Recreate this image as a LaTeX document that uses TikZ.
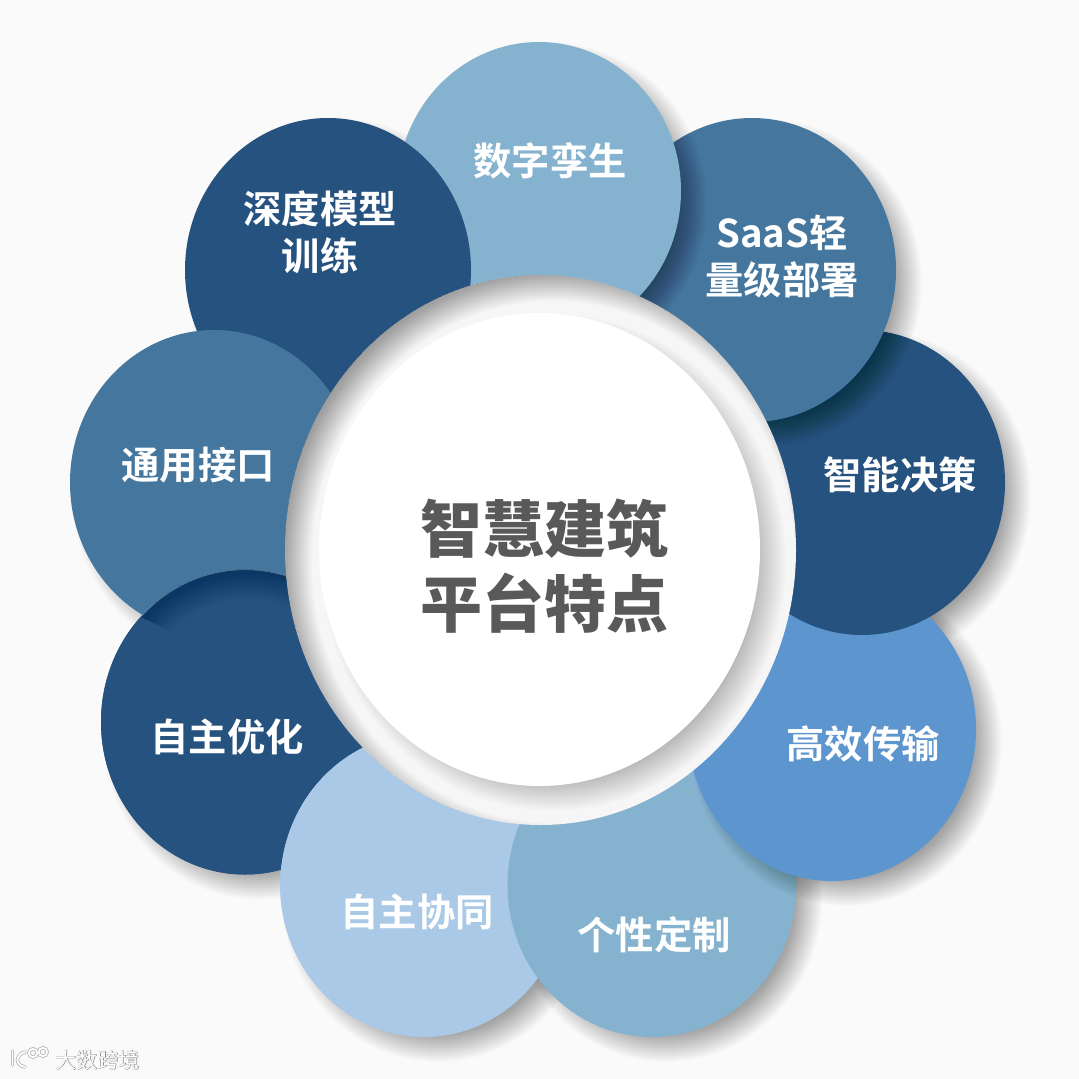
\documentclass[tikz,border=0pt]{standalone}
\usepackage{fontspec}
\setmainfont{Noto Sans CJK SC}[BoldFont={* Bold}]
\newfontfamily\cjkblack{Noto Sans CJK SC Black}
\newfontfamily\cjkreg{Noto Sans CJK SC}
\newfontfamily\cjkglow[FakeBold=3]{Noto Sans CJK SC}
\definecolor{bgc}{HTML}{FAFAFA}
\definecolor{ringc}{HTML}{F6F6F6}
\definecolor{pa}{HTML}{85B3CF}
\definecolor{pb}{HTML}{44769E}
\definecolor{pc}{HTML}{26527F}
\definecolor{pd}{HTML}{5D95CF}
\definecolor{pe}{HTML}{A9C9E7}
\definecolor{titlec}{HTML}{595959}
\tikzset{
  lbl/.style={text=white,align=center,font=\bfseries\fontsize{38.3}{47}\selectfont,inner sep=0pt},
  title/.style={text=titlec,align=center,font=\cjkblack\fontsize{62}{75}\selectfont,inner sep=0pt},
  wmtext/.style={inner sep=0pt,font=\cjkreg\fontsize{21}{21}\selectfont},
  wmglow/.style={inner sep=0pt,font=\cjkglow\fontsize{21}{21}\selectfont}
}
\newcommand{\shop}{0.011}
% soft shadow: stacked translucent ellipses
\newcommand{\softshadow}[4]{% cx cy rx ry
  \foreach \d in {12,11,...,-20}{
    \fill[black,opacity=\shop] ({#1+14},{#2+13}) ellipse [x radius={#3+\d*1pt},y radius={#4+\d*1pt}];
  }
}
\newcommand{\pbody}[5]{\fill[#5] (#1,#2) ellipse [x radius=#3pt,y radius=#4pt];}
\newcommand{\pshadow}[4]{\softshadow{#1}{#2}{#3pt}{#4pt}}
\newcommand{\petal}[5]{\pshadow{#1}{#2}{#3}{#4}\pbody{#1}{#2}{#3}{#4}{#5}}
\begin{document}
\begin{tikzpicture}[x=1pt,y=-1pt]
\useasboundingbox (0,0) rectangle (1079,1079);
\fill[bgc] (0,0) rectangle (1079,1079);
% petals, bottom to top
\petal{245}{722}{144}{152.5}{pc}
\pshadow{652}{885}{144.5}{152}
\petal{424}{885}{144}{152}{pe}
\pbody{652}{885}{144.5}{152}{pa}
\pshadow{862}{482.5}{143}{152.5}
\petal{832}{729}{144}{152}{pd}
\pbody{862}{482.5}{143}{152.5}{pc}
\petal{752}{270}{144}{152}{pb}
\pshadow{214}{482.5}{144}{152.5}
\pshadow{328}{270}{143}{152}
\petal{539}{191}{142}{149}{pa}
\pbody{328}{270}{143}{152}{pc}
\pbody{214}{482.5}{144}{152.5}{pb}
% closes the cycle: the lowest petal lies over the last one
\begin{scope}[even odd rule]
  \clip (0,0) rectangle (1079,1079) (424,885) ellipse [x radius=144pt,y radius=152pt];
  \fill[pc] (245,722) ellipse [x radius=144pt,y radius=152.5pt];
  \begin{scope}
    \clip (245,722) ellipse [x radius=144pt,y radius=152.5pt];
    \clip (214,482.5) ellipse [x radius=146pt,y radius=154.5pt];
    \foreach \d in {0,1,...,26}{
      \fill[black,opacity=0.008] (0,0) rectangle (1079,1079) (249,726) ellipse [x radius={144pt-\d*1pt},y radius={152.5pt-\d*1pt}];
    }
    \draw[white,opacity=0.4,line width=0.5pt] (245,722) ellipse [x radius=143.8pt,y radius=152.3pt];
  \end{scope}
\end{scope}
% ring hole
\begin{scope}
  \clip (540.5,550) ellipse [x radius=255.5pt,y radius=275pt];
  \fill[ringc] (0,0) rectangle (1079,1079);
  \begin{scope}[even odd rule]
    \foreach \d in {-14,-13,...,18}{
      \fill[black,opacity=0.012] (0,0) rectangle (1079,1079) (553.5,562) ellipse [x radius={255.5pt+\d*1pt},y radius={275pt+\d*1pt}];
    }
  \end{scope}
  \renewcommand{\shop}{0.008}
  \softshadow{539.5}{549.5}{220.5pt}{236.5pt}
\end{scope}
\fill[white] (539.5,549.5) ellipse [x radius=220.5pt,y radius=236.5pt];
% labels
\node[lbl] (n1) at (550,161) {数字孪生};
\node[lbl] (n2) at (782,256) {SaaS轻\\量级部署};
\node[lbl] (n3) at (900,475) {智能决策};
\node[lbl] (n4) at (863,744) {高效传输};
\node[lbl] (n5) at (654,935) {个性定制};
\node[lbl] (n6) at (417,912) {自主协同};
\node[lbl] (n7) at (227,737) {自主优化};
\node[lbl] (n8) at (198,465) {通用接口};
\node[lbl] (n9) at (320,232) {深度模型\\训练};
\node[title] (center) at (544,566) {智慧建筑\\平台特点};
% watermark
\node[wmglow,text=black,opacity=0.3] (wmg) at (97.5,1060) {大数跨境};
\node[wmtext,text=white] (wm) at (97.5,1060) {大数跨境};
\foreach \c/\w in {black!25/3.6pt,white/1.7pt}{
  \draw[\c,line width=\w,line cap=round] (12.5,1051) -- (12.5,1065);
  \draw[\c,line width=\w,line cap=round] (25,1052) .. controls (16,1054) and (14,1065) .. (25,1067);
  \draw[\c,line width=\w] (33,1053) circle [radius=4.2pt];
  \draw[\c,line width=\w] (43,1052) circle [radius=4.2pt];
}
\end{tikzpicture}
\end{document}
